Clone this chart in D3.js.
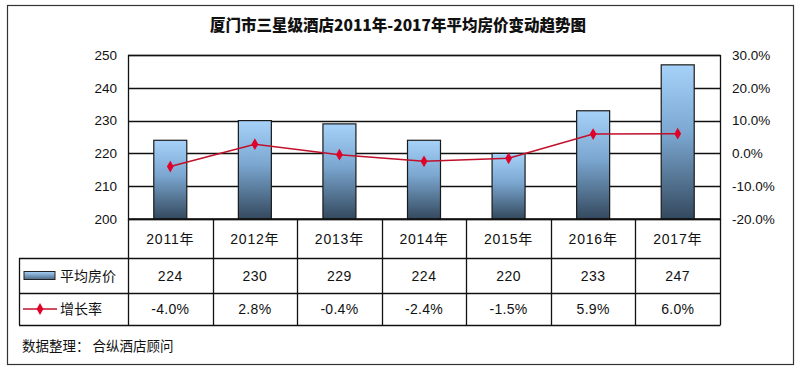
<!DOCTYPE html>
<html>
<head>
<meta charset="utf-8">
<script src="https://cdn.jsdelivr.net/npm/d3@7"></script>
<style>
body { margin: 0; background: #fff; }
text { font-family: "Liberation Sans", Arial, "Noto Sans CJK SC", sans-serif; fill: #111; }
.cjk { font-family: "Noto Sans CJK SC", sans-serif; }
</style>
</head>
<body>
<div id="chart"></div>
<script>
var years = ["2011年", "2012年", "2013年", "2014年", "2015年", "2016年", "2017年"];
var avgPrice = [224, 230, 229, 224, 220, 233, 247];
var growth = [-4.0, 2.8, -0.4, -2.4, -1.5, 5.9, 6.0];
var leftTicks = [200, 210, 220, 230, 240, 250];
var rightTicks = [-20, -10, 0, 10, 20, 30];

var W = 800, H = 371;
var margin = {left: 128, top: 55, right: 80};
var width = 720 - margin.left;
var height = 219 - margin.top;

var svg = d3.select("#chart").append("svg")
    .attr("width", W).attr("height", H);

var grad = svg.append("defs").append("linearGradient")
    .attr("id", "barGrad").attr("x1", 0).attr("y1", 0).attr("x2", 0).attr("y2", 1);
grad.append("stop").attr("offset", "0%").attr("stop-color", "#a6d2fa");
grad.append("stop").attr("offset", "45%").attr("stop-color", "#7aa6cf");
grad.append("stop").attr("offset", "100%").attr("stop-color", "#34495e");

var lgrad = svg.select("defs").append("linearGradient")
    .attr("id", "legGrad").attr("x1", 0).attr("y1", 0).attr("x2", 0).attr("y2", 1);
lgrad.append("stop").attr("offset", "0%").attr("stop-color", "#a6d2fa");
lgrad.append("stop").attr("offset", "100%").attr("stop-color", "#4d6985");

// outer frame
svg.append("rect")
    .attr("x", 7.5).attr("y", 5.5).attr("width", 786).attr("height", 359)
    .attr("fill", "#fff").attr("stroke", "#333").attr("stroke-width", 1.2);

svg.append("text")
    .attr("class", "cjk")
    .attr("x", 398).attr("y", 31)
    .attr("text-anchor", "middle")
    .style("font-size", "15.5px").style("font-weight", "900")
    .text("厦门市三星级酒店2011年-2017年平均房价变动趋势图");

var x = d3.scaleBand().domain(years).range([0, width]).padding(0);
var y = d3.scaleLinear().domain([200, 250]).range([height, 0]);
var y2 = d3.scaleLinear().domain([-20, 30]).range([height, 0]);

var vis = svg.append("g")
    .attr("transform", "translate(" + margin.left + "," + margin.top + ")");

// gridlines
vis.selectAll("line.grid").data(leftTicks).enter().append("line")
    .attr("class", "grid")
    .attr("x1", 0).attr("x2", width)
    .attr("y1", function (d) { return Math.round(y(d)) + 0.5; })
    .attr("y2", function (d) { return Math.round(y(d)) + 0.5; })
    .attr("stroke", "#111").attr("stroke-width", 1.3);

vis.append("rect")
    .attr("x", 0.5).attr("y", 0.5).attr("width", width).attr("height", height)
    .attr("fill", "none").attr("stroke", "#111").attr("stroke-width", 1.3);

// left axis
var yaxis = d3.axisLeft(y).tickValues(leftTicks).tickSize(0).tickPadding(11);
var gy = vis.append("g").call(yaxis);
gy.select(".domain").remove();
gy.selectAll("text").style("font-size", "13.5px").attr("fill", "#222");

// right axis
var y2axis = d3.axisRight(y2).tickValues(rightTicks).tickSize(0).tickPadding(12)
    .tickFormat(function (d) { return d.toFixed(1) + "%"; });
var gy2 = vis.append("g").attr("transform", "translate(" + width + ",0)").call(y2axis);
gy2.select(".domain").remove();
gy2.selectAll("text").style("font-size", "13.5px").attr("fill", "#222");

// bars
var barW = 33;
vis.selectAll("rect.bar").data(avgPrice).enter().append("rect")
    .attr("class", "bar")
    .attr("x", function (d, i) { return x(years[i]) + x.bandwidth() / 2 - barW / 2; })
    .attr("y", function (d) { return y(d); })
    .attr("width", barW)
    .attr("height", function (d) { return height - y(d); })
    .attr("fill", "url(#barGrad)")
    .attr("stroke", "#1a1a1a").attr("stroke-width", 1.2);

// growth line
var valueline = d3.line()
    .x(function (d, i) { return x(years[i]) + x.bandwidth() / 2; })
    .y(function (d) { return y2(d); });

vis.append("path").datum(growth)
    .attr("d", valueline)
    .attr("fill", "none").attr("stroke", "#c0102a").attr("stroke-width", 1.6);

var diamond = d3.symbol().type(d3.symbolDiamond).size(40);
vis.selectAll("path.pt").data(growth).enter().append("path")
    .attr("class", "pt")
    .attr("d", diamond)
    .attr("transform", function (d, i) {
        return "translate(" + (x(years[i]) + x.bandwidth() / 2) + "," + y2(d) + ")";
    })
    .attr("fill", "#e0002a");

// data table
var rowY = [height, 258 - margin.top, 293 - margin.top, 325 - margin.top];
var tableLeft = 19 - margin.left;
var t = vis.append("g");
var lineAttr = function (sel) { return sel.attr("stroke", "#111").attr("stroke-width", 1.3); };

// horizontal lines
t.append("line").attr("x1", 0).attr("x2", width).attr("y1", rowY[0]).attr("y2", rowY[0]).call(lineAttr);
[1, 2, 3].forEach(function (r) {
    t.append("line").attr("x1", tableLeft).attr("x2", width + 0.5)
        .attr("y1", rowY[r] + 0.5).attr("y2", rowY[r] + 0.5).call(lineAttr);
});
// left edge of legend column
t.append("line").attr("x1", tableLeft + 0.5).attr("x2", tableLeft + 0.5)
    .attr("y1", rowY[1]).attr("y2", rowY[3]).call(lineAttr);
// vertical lines
years.forEach(function (c, i) {
    var xx = Math.round(x(c)) + 0.5;
    t.append("line").attr("x1", xx).attr("x2", xx).attr("y1", rowY[0]).attr("y2", rowY[3]).call(lineAttr);
});
t.append("line").attr("x1", width + 0.5).attr("x2", width + 0.5).attr("y1", rowY[0]).attr("y2", rowY[3]).call(lineAttr);

// category labels
t.selectAll("text.cat").data(years).enter().append("text")
    .attr("class", "cat")
    .attr("x", function (d) { return x(d) + x.bandwidth() / 2; })
    .attr("y", (rowY[0] + rowY[1]) / 2 + 5)
    .attr("text-anchor", "middle")
    .style("font-size", "14px").style("letter-spacing", "0.8px")
    .text(function (d) { return d; });

t.selectAll("text.price").data(avgPrice).enter().append("text")
    .attr("class", "price")
    .attr("x", function (d, i) { return x(years[i]) + x.bandwidth() / 2; })
    .attr("y", (rowY[1] + rowY[2]) / 2 + 5)
    .attr("text-anchor", "middle")
    .style("font-size", "14px").style("letter-spacing", "0.5px")
    .text(function (d) { return d; });

t.selectAll("text.rate").data(growth).enter().append("text")
    .attr("class", "rate")
    .attr("x", function (d, i) { return x(years[i]) + x.bandwidth() / 2; })
    .attr("y", (rowY[2] + rowY[3]) / 2 + 5)
    .attr("text-anchor", "middle")
    .style("font-size", "14px").style("letter-spacing", "0.3px")
    .text(function (d) { return d.toFixed(1) + "%"; });

// legend in table
var ly1 = (258 + 293) / 2, ly2 = (293 + 325) / 2;
svg.append("rect").attr("x", 24).attr("y", ly1 - 4).attr("width", 31).attr("height", 8)
    .attr("fill", "url(#legGrad)").attr("stroke", "#222").attr("stroke-width", 1);
svg.append("text").attr("class", "cjk").attr("x", 60).attr("y", ly1 + 5)
    .style("font-size", "14px").text("平均房价");
svg.append("line").attr("x1", 23).attr("x2", 57).attr("y1", ly2).attr("y2", ly2)
    .attr("stroke", "#c0102a").attr("stroke-width", 1.6);
svg.append("path").attr("d", diamond).attr("transform", "translate(40," + ly2 + ")").attr("fill", "#e0002a");
svg.append("text").attr("class", "cjk").attr("x", 60).attr("y", ly2 + 5)
    .style("font-size", "14px").text("增长率");

svg.append("text").attr("class", "cjk").attr("x", 22).attr("y", 351)
    .style("font-size", "13.5px").attr("fill", "#222").text("数据整理： 合纵酒店顾问");
</script>
</body>
</html>
